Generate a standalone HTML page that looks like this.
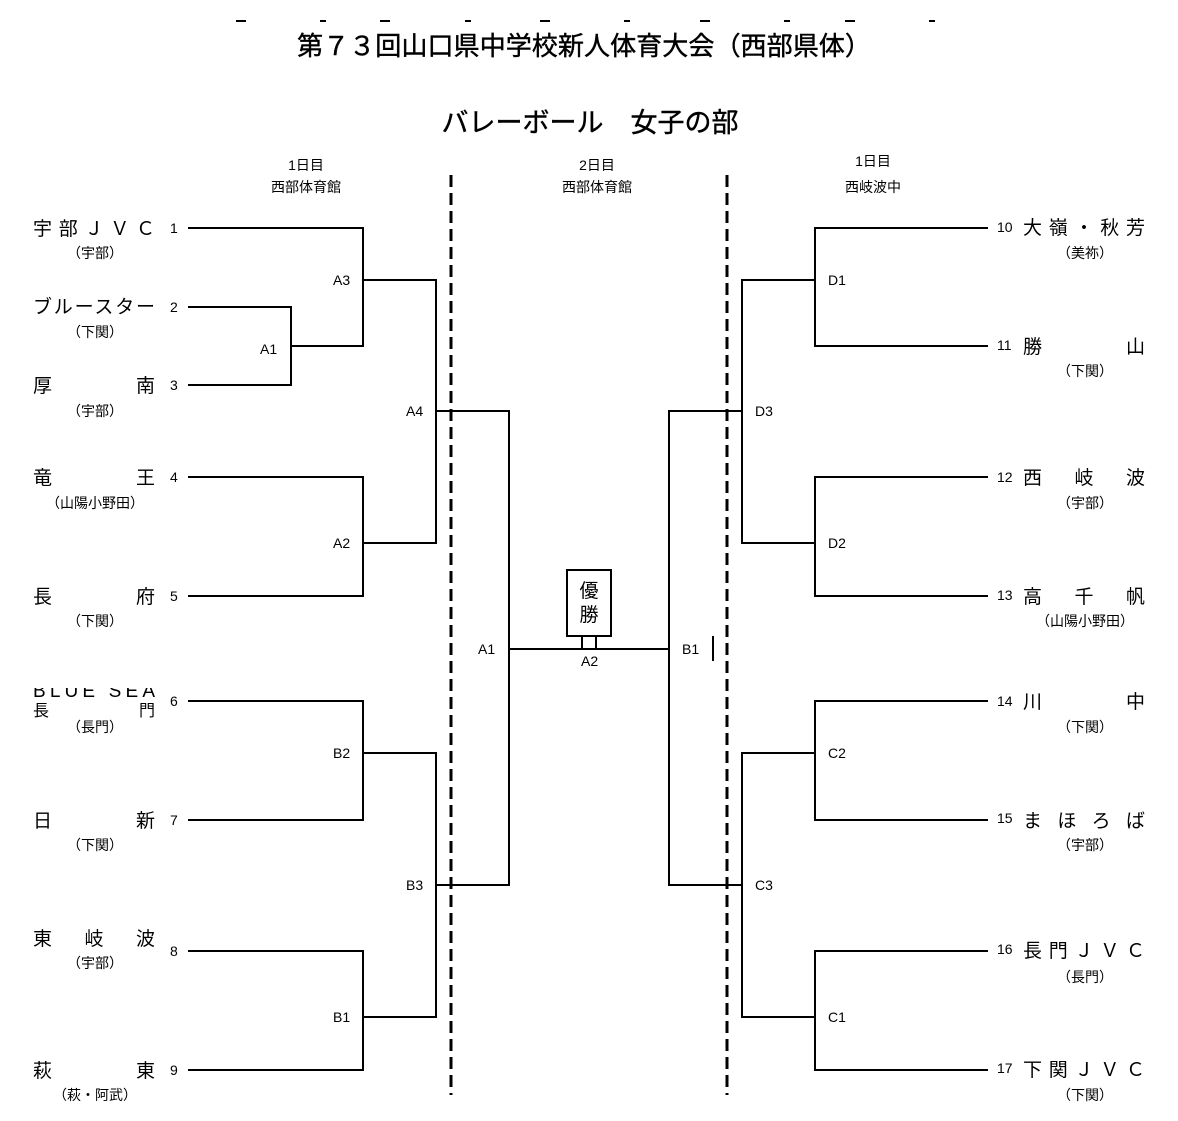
<!DOCTYPE html>
<html><head><meta charset="utf-8"><style>
html,body{margin:0;padding:0;background:#fff}
svg{display:block}
text{font-family:"Liberation Sans","Noto Sans CJK JP",sans-serif;fill:#000}
</style></head><body>
<svg width="1178" height="1121" viewBox="0 0 1178 1121" xmlns="http://www.w3.org/2000/svg">
<defs><clipPath id="cb"><rect x="0" y="688" width="200" height="40"/></clipPath></defs>
<g stroke="#000" stroke-width="2">
<line x1="236" y1="21" x2="246" y2="21"/><line x1="320" y1="21" x2="326" y2="21"/><line x1="380" y1="21" x2="390" y2="21"/><line x1="465" y1="21" x2="471" y2="21"/><line x1="540" y1="21" x2="550" y2="21"/><line x1="624" y1="21" x2="630" y2="21"/><line x1="700" y1="21" x2="710" y2="21"/><line x1="784" y1="21" x2="790" y2="21"/><line x1="845" y1="21" x2="855" y2="21"/><line x1="929" y1="21" x2="935" y2="21"/>
</g>
<text x="584" y="55" font-size="26" text-anchor="middle" textLength="574" lengthAdjust="spacingAndGlyphs" stroke="#000" stroke-width="0.4">第７３回山口県中学校新人体育大会（西部県体）</text>
<text x="590" y="132" font-size="27" text-anchor="middle" stroke="#000" stroke-width="0.4">バレーボール　女子の部</text>
<g font-size="14" text-anchor="middle">
<text x="306" y="170">1日目</text><text x="306" y="192">西部体育館</text>
<text x="597" y="170">2日目</text><text x="597" y="192">西部体育館</text>
<text x="873" y="166">1日目</text><text x="873" y="192">西岐波中</text>
</g>
<g stroke="#000" stroke-width="3" stroke-dasharray="12,6">
<line x1="451" y1="175" x2="451" y2="1095"/><line x1="727" y1="175" x2="727" y2="1095"/>
</g>
<g stroke="#000" stroke-width="2" fill="none">
<polyline points="188,228 363,228 363,346 291,346"/>
<polyline points="188,307 291,307 291,385 188,385"/>
<polyline points="363,280 436,280 436,543 363,543"/>
<polyline points="188,477 363,477 363,596 188,596"/>
<polyline points="436,411 509,411 509,885 436,885"/>
<polyline points="188,701 363,701 363,820 188,820"/>
<polyline points="363,753 436,753 436,1017 363,1017"/>
<polyline points="188,951 363,951 363,1070 188,1070"/>
<line x1="509" y1="649" x2="669" y2="649"/>
<polyline points="742,411 669,411 669,885 742,885"/>
<polyline points="988,228 815,228 815,346 988,346"/>
<polyline points="815,280 742,280 742,543 815,543"/>
<polyline points="988,477 815,477 815,596 988,596"/>
<polyline points="988,701 815,701 815,820 988,820"/>
<polyline points="815,753 742,753 742,1017 815,1017"/>
<polyline points="988,951 815,951 815,1070 988,1070"/>
<line x1="713" y1="636" x2="713" y2="661"/>
<rect x="567" y="570" width="44" height="66"/>
<line x1="582" y1="636" x2="582" y2="649"/><line x1="596" y1="636" x2="596" y2="649"/>
</g>
<g font-size="19" text-anchor="middle"><text x="589" y="597">優</text><text x="589" y="621">勝</text></g>
<g font-size="14">
<text x="333" y="285">A3</text><text x="260" y="354">A1</text><text x="406" y="416">A4</text><text x="333" y="548">A2</text>
<text x="478" y="654">A1</text><text x="581" y="666">A2</text><text x="682" y="654">B1</text>
<text x="333" y="758">B2</text><text x="406" y="890">B3</text><text x="333" y="1022">B1</text>
<text x="828" y="285">D1</text><text x="755" y="416">D3</text><text x="828" y="548">D2</text>
<text x="828" y="758">C2</text><text x="755" y="890">C3</text><text x="828" y="1022">C1</text>
</g>
<g font-size="14">
<text x="170" y="233">1</text><text x="170" y="312">2</text><text x="170" y="390">3</text><text x="170" y="482">4</text><text x="170" y="601">5</text><text x="170" y="706">6</text><text x="170" y="825">7</text><text x="170" y="956">8</text><text x="170" y="1075">9</text>
<text x="997" y="232">10</text><text x="997" y="350">11</text><text x="997" y="482">12</text><text x="997" y="600">13</text><text x="997" y="706">14</text><text x="997" y="823">15</text><text x="997" y="954">16</text><text x="997" y="1073">17</text>
</g>
<g font-size="19">
<text x="33" y="235" textLength="122" lengthAdjust="spacing">宇部ＪＶＣ</text>
<text x="33" y="313" textLength="122" lengthAdjust="spacing">ブルースター</text>
<text x="33" y="392" textLength="122" lengthAdjust="spacing">厚南</text>
<text x="33" y="484" textLength="122" lengthAdjust="spacing">竜王</text>
<text x="33" y="603" textLength="122" lengthAdjust="spacing">長府</text>
<text x="33" y="697" textLength="122" lengthAdjust="spacing" clip-path="url(#cb)">BLUE SEA</text>
<text x="33" y="716" textLength="122" lengthAdjust="spacing" clip-path="url(#cb)" font-size="16">長門</text>
<text x="33" y="827" textLength="122" lengthAdjust="spacing">日新</text>
<text x="33" y="945" textLength="122" lengthAdjust="spacing">東岐波</text>
<text x="33" y="1077" textLength="122" lengthAdjust="spacing">萩東</text>
<text x="1023" y="234" textLength="122" lengthAdjust="spacing">大嶺・秋芳</text>
<text x="1023" y="353" textLength="122" lengthAdjust="spacing">勝山</text>
<text x="1023" y="484" textLength="122" lengthAdjust="spacing">西岐波</text>
<text x="1023" y="603" textLength="122" lengthAdjust="spacing">高千帆</text>
<text x="1023" y="708" textLength="122" lengthAdjust="spacing">川中</text>
<text x="1023" y="827" textLength="122" lengthAdjust="spacing">まほろば</text>
<text x="1023" y="957" textLength="122" lengthAdjust="spacing">長門ＪＶＣ</text>
<text x="1023" y="1076" textLength="122" lengthAdjust="spacing">下関ＪＶＣ</text>
</g>
<g font-size="14" text-anchor="middle">
<text x="95" y="258">（宇部）</text><text x="95" y="337">（下関）</text><text x="95" y="416">（宇部）</text><text x="95" y="508">（山陽小野田）</text><text x="95" y="626">（下関）</text><text x="95" y="732">（長門）</text><text x="95" y="850">（下関）</text><text x="95" y="968">（宇部）</text><text x="95" y="1100">（萩・阿武）</text>
<text x="1085" y="258">（美祢）</text><text x="1085" y="376">（下関）</text><text x="1085" y="508">（宇部）</text><text x="1085" y="626">（山陽小野田）</text><text x="1085" y="732">（下関）</text><text x="1085" y="850">（宇部）</text><text x="1085" y="982">（長門）</text><text x="1085" y="1100">（下関）</text>
</g>
</svg>
</body></html>
